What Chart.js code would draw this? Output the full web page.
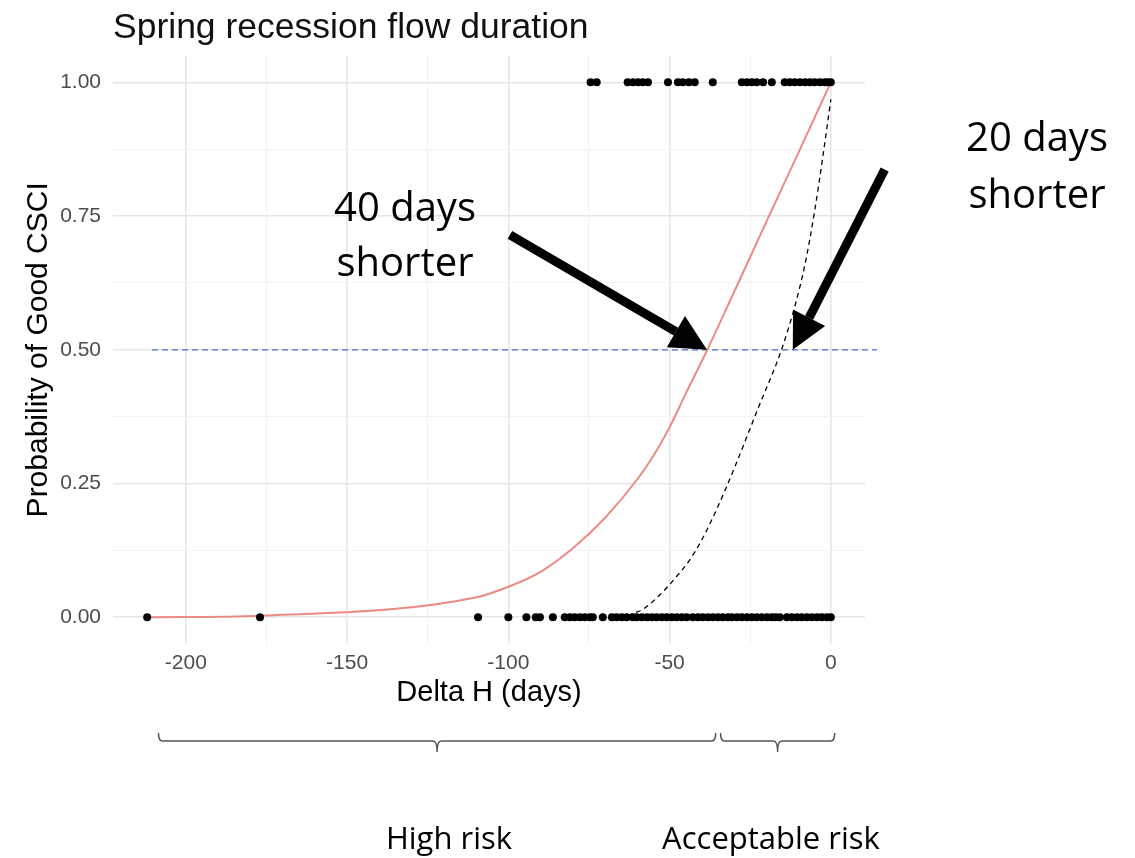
<!DOCTYPE html>
<html>
<head>
<meta charset="utf-8">
<script src="https://cdn.jsdelivr.net/npm/chart.js@4"></script>
<style>
  html, body { margin: 0; padding: 0; background: #fff; }
  canvas { display: block; }
</style>
</head>
<body>
<canvas id="chart" width="1135" height="858"></canvas>
<script>
// Observed sites: Delta H (days) for Good CSCI (1) and not good (0)
const goodX = [-74.5, -72.6, -63, -61.4, -59.8, -58.3, -56.7, -50.5, -47.4, -45.9, -44, -42.2,
  -36.6, -27.6, -26, -24.5, -23, -21, -18.3, -14.3, -12.7, -11.2, -9.6, -8, -6.5, -5, -3.4, -1.9, -0.9, 0];
const poorX = [-212, -177, -109.4, -100, -94.4, -91.5, -90.2, -86.2, -82.5, -80.9, -79.4, -77.8, -76.3,
  -74.7, -73.8, -70.7, -67.9, -66.4, -64.8, -63.3, -61.4, -60.2, -58.6, -57, -55.5, -54, -52.4, -50.9,
  -49.3, -47.8, -46.2, -44.7, -42.8, -41.2, -39.7, -38.1, -36.6, -35, -33.5, -31.9, -30.7, -29.1, -27.6,
  -26, -24.5, -23, -21.4, -19.8, -18.3, -17.1, -15.8, -13.6, -12.1, -10.5, -9, -7.4, -5.9, -4.3, -2.8, -1.2, 0];

// fitted curve (red)
const fitX = [-212, -177, -109.4, -100, -90, -80, -70, -60, -55, -50, -45, -38.3, -30, -20, -10, 0];
const fitY = [0, 0.003, 0.038, 0.057, 0.085, 0.129, 0.186, 0.258, 0.302, 0.355, 0.418, 0.5, 0.608, 0.739, 0.869, 1.0];

// hand-drawn alternative curve (black dashed)
const altX = [-63, -58, -53, -48, -44, -40, -35, -29.5, -22.6, -15.3, -11, -8, -5, -2.5, 0];
const altY = [0.003, 0.016, 0.042, 0.075, 0.105, 0.145, 0.207, 0.285, 0.39, 0.5, 0.585, 0.66, 0.76, 0.86, 0.968];

// 0.5 threshold line
const thresholdX = [-210.5, 14.3];
const thresholdY = [0.5, 0.5];

const xTicks = [-200, -175, -150, -125, -100, -75, -50, -25, 0];
const xLabelled = [-200, -150, -100, -50, 0];
const yTicks = [0, 0.125, 0.25, 0.375, 0.5, 0.625, 0.75, 0.875, 1];
const yLabelled = [0, 0.25, 0.5, 0.75, 1];

const pts = (xs, ys) => xs.map((v, i) => ({ x: v, y: Array.isArray(ys) ? ys[i] : ys }));

const sans = '"Liberation Sans", Arial, sans-serif';
const noteFont = '"Open Sans", sans-serif';

function drawArrow(ctx, x1, y1, x2, y2) {
  const ang = Math.atan2(y2 - y1, x2 - x1);
  const headLen = 36, headHalf = 18;
  const bx = x2 - headLen * Math.cos(ang), by = y2 - headLen * Math.sin(ang);
  ctx.save();
  ctx.strokeStyle = '#000';
  ctx.fillStyle = '#000';
  ctx.lineWidth = 9;
  ctx.beginPath();
  ctx.moveTo(x1, y1);
  ctx.lineTo(bx, by);
  ctx.stroke();
  ctx.beginPath();
  ctx.moveTo(x2, y2);
  ctx.lineTo(bx + headHalf * Math.sin(ang), by - headHalf * Math.cos(ang));
  ctx.lineTo(bx - headHalf * Math.sin(ang), by + headHalf * Math.cos(ang));
  ctx.closePath();
  ctx.fill();
  ctx.restore();
}

function drawBrace(ctx, x1, x2, y) {
  const mid = (x1 + x2) / 2, up = 8, down = 11, r = 4;
  ctx.save();
  ctx.strokeStyle = '#555';
  ctx.lineWidth = 1.5;
  ctx.beginPath();
  ctx.moveTo(x1, y - up);
  ctx.quadraticCurveTo(x1, y, x1 + r, y);
  ctx.lineTo(mid - r, y);
  ctx.quadraticCurveTo(mid, y, mid, y + down);
  ctx.quadraticCurveTo(mid, y, mid + r, y);
  ctx.lineTo(x2 - r, y);
  ctx.quadraticCurveTo(x2, y, x2, y - up);
  ctx.stroke();
  ctx.restore();
}

// arrows and braces in data units, notes in pixels
const arrows = [
  { from: [-99.5, 0.715], to: [-38.4, 0.5] },
  { from: [16.7, 0.837], to: [-11.8, 0.5] }
];
const braces = [[-208.5, -35.7], [-34.2, 1.2]];
const notes = [
  { text: '40 days', x: 405, y: 210, size: 40 },
  { text: 'shorter', x: 405, y: 265, size: 40 },
  { text: '20 days', x: 1037, y: 140, size: 40 },
  { text: 'shorter', x: 1037, y: 197, size: 40 },
  { text: 'High risk', x: 449, y: 840, size: 31 },
  { text: 'Acceptable risk', x: 771, y: 840, size: 31 }
];

const annotate = {
  id: 'annotate',
  afterDraw(chart) {
    const { ctx, scales: { x, y }, chartArea } = chart;
    arrows.forEach(a => drawArrow(ctx,
      x.getPixelForValue(a.from[0]), y.getPixelForValue(a.from[1]),
      x.getPixelForValue(a.to[0]), y.getPixelForValue(a.to[1])));
    braces.forEach(b => drawBrace(ctx, x.getPixelForValue(b[0]), x.getPixelForValue(b[1]), chartArea.bottom + 97));
    ctx.save();
    ctx.fillStyle = '#000';
    ctx.textAlign = 'center';
    ctx.textBaseline = 'middle';
    notes.forEach(n => {
      ctx.font = n.size + 'px ' + noteFont;
      ctx.fillText(n.text, n.x, n.y);
    });
    ctx.restore();
  }
};

const gridColor = (list) => ctx => (ctx.tick && list.includes(ctx.tick.value)) ? '#e6e6e6' : '#f2f2f2';
const gridWidth = (list) => ctx => (ctx.tick && list.includes(ctx.tick.value)) ? 1.6 : 1;

new Chart(document.getElementById('chart'), {
  type: 'scatter',
  data: {
    datasets: [
      {
        label: 'Good CSCI',
        data: pts(goodX, 1),
        backgroundColor: '#000',
        borderColor: '#000',
        pointRadius: 4,
        pointBorderWidth: 0
      },
      {
        label: 'Not good',
        data: pts(poorX, 0),
        backgroundColor: '#000',
        borderColor: '#000',
        pointRadius: 4,
        pointBorderWidth: 0
      },
      {
        label: 'Fit',
        data: pts(fitX, fitY),
        showLine: true,
        borderColor: '#ec8b82',
        borderWidth: 2,
        pointRadius: 0,
        cubicInterpolationMode: 'monotone'
      },
      {
        label: 'Alternative',
        data: pts(altX, altY),
        showLine: true,
        borderColor: '#000',
        borderWidth: 1.3,
        borderDash: [5, 4],
        pointRadius: 0,
        cubicInterpolationMode: 'monotone'
      },
      {
        label: 'Threshold',
        data: pts(thresholdX, thresholdY),
        showLine: true,
        borderColor: '#4a74cc',
        borderWidth: 1.3,
        borderDash: [6, 4],
        pointRadius: 0,
        clip: false
      }
    ]
  },
  options: {
    responsive: false,
    animation: false,
    layout: { padding: { top: 0, right: 270, bottom: 144, left: 0 } },
    plugins: {
      legend: { display: false },
      tooltip: { enabled: false },
      title: {
        display: true,
        text: 'Spring recession flow duration',
        align: 'start',
        fullSize: false,
        color: '#111',
        font: { family: sans, size: 35.5, weight: 'normal' },
        padding: { top: 7, bottom: 6 }
      }
    },
    scales: {
      x: {
        type: 'linear',
        min: -222.6,
        max: 10.6,
        afterBuildTicks: s => { s.ticks = xTicks.map(v => ({ value: v })); },
        afterFit: s => { s.height = 70; },
        border: { display: false },
        grid: { drawTicks: false, color: gridColor(xLabelled), lineWidth: gridWidth(xLabelled) },
        ticks: {
          padding: 7,
          color: '#4d4d4d',
          font: { family: sans, size: 21 },
          maxRotation: 0,
          callback: v => xLabelled.includes(v) ? String(v) : ''
        },
        title: {
          display: true,
          text: 'Delta H (days)',
          color: '#000',
          font: { family: sans, size: 29 },
          padding: { top: 0, bottom: 4 }
        }
      },
      y: {
        type: 'linear',
        min: -0.05,
        max: 1.05,
        afterBuildTicks: s => { s.ticks = yTicks.map(v => ({ value: v })); },
        afterFit: s => { s.width = 113; },
        border: { display: false },
        grid: { drawTicks: false, color: gridColor(yLabelled), lineWidth: gridWidth(yLabelled) },
        ticks: {
          padding: 12,
          color: '#4d4d4d',
          font: { family: sans, size: 21 },
          callback: v => yLabelled.includes(v) ? v.toFixed(2) : ''
        },
        title: {
          display: true,
          text: 'Probability of Good CSCI',
          color: '#000',
          font: { family: sans, size: 30 },
          padding: { top: 21, bottom: 0 }
        }
      }
    }
  },
  plugins: [annotate]
});
</script>
</body>
</html>
